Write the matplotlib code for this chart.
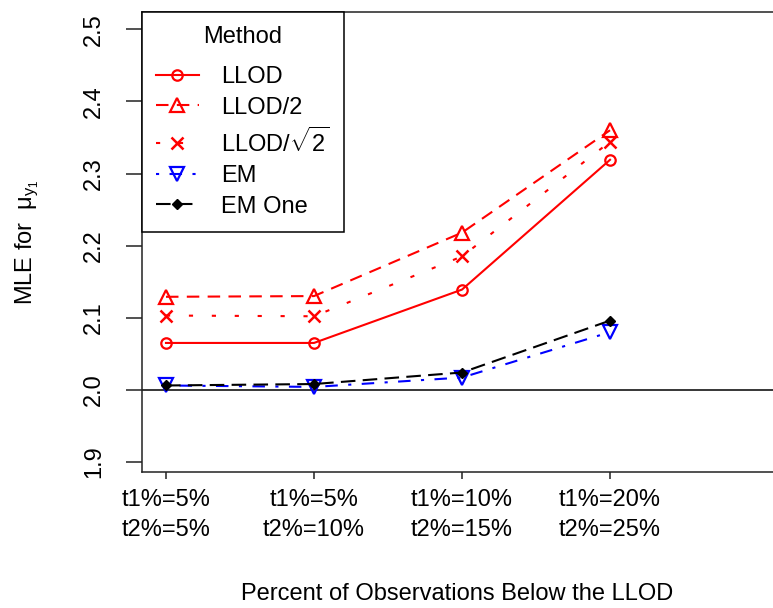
import matplotlib
matplotlib.use('Agg')
import matplotlib.pyplot as plt

plt.rcParams['font.family'] = ['Liberation Sans', 'DejaVu Sans']
plt.rcParams['mathtext.fontset'] = 'custom'
plt.rcParams['mathtext.rm'] = 'Liberation Sans'
plt.rcParams['mathtext.it'] = 'Liberation Sans'
plt.rcParams['mathtext.bf'] = 'Liberation Sans:bold'

# scenario index (1..4) and the MLE of mu_y1 for each method
x = [1, 2, 3, 4]
xlabels = ['t1%=5%\nt2%=5%', 't1%=5%\nt2%=10%', 't1%=10%\nt2%=15%', 't1%=20%\nt2%=25%']
llod = [2.065, 2.065, 2.139, 2.319]
llod_half = [2.129, 2.130, 2.218, 2.360]
llod_sqrt2 = [2.103, 2.102, 2.185, 2.344]
em = [2.006, 2.004, 2.017, 2.080]
em_one = [2.006, 2.008, 2.024, 2.096]

FS = 17

fig = plt.figure(figsize=(7.73, 6.08), dpi=100)
ax = fig.add_axes([142/773, 136/608, 640/773, 460/608])

ax.axhline(2.0, color='black', lw=1.1, zorder=1)

ax.plot(x, llod, color='red', lw=1.5, ls='-', marker='o', ms=7.5,
        mfc='none', mew=1.6, label='LLOD')
ax.plot(x, llod_half, color='red', lw=1.5, ls=(0, (6, 4)), marker='^', ms=10,
        mfc='none', mew=1.6, label='LLOD/2')
ax.plot(x, llod_sqrt2, color='red', lw=1.5, ls=(0, (2, 9)), marker='x', ms=9,
        mew=1.8, label=r'LLOD/$\sqrt{2}$')
ax.plot(x, em, color='blue', lw=1.5, ls=(0, (1.5, 5, 6, 5)), marker='v', ms=10.5,
        mfc='none', mew=1.6, label='EM')
ax.plot(x, em_one, color='black', lw=1.5, ls=(0, (7, 3.5)), marker='D', ms=5.5,
        mfc='black', mew=1, label='EM One')

ax.set_xlim(0.838, 5.162)
ax.set_ylim(1.886, 2.524)

ax.set_xticks(x)
ax.set_xticklabels(xlabels, fontsize=FS, linespacing=1.5)
ax.set_yticks([1.9, 2.0, 2.1, 2.2, 2.3, 2.4, 2.5])
ax.set_yticklabels(['1.9', '2.0', '2.1', '2.2', '2.3', '2.4', '2.5'],
                   fontsize=FS, rotation=90, va='center')
ax.tick_params(axis='y', length=11.5, width=1.1, pad=15, colors='#222222')
ax.tick_params(axis='x', length=5, width=1.1, pad=7, colors='#222222')
for lab in ax.get_xticklabels() + ax.get_yticklabels():
    lab.set_color('black')

for side in ['left', 'bottom', 'top', 'right']:
    ax.spines[side].set_linewidth(1.1)
    ax.spines[side].set_color('#222222')

ax.set_xlabel('Percent of Observations Below the LLOD', fontsize=FS)
ax.xaxis.set_label_coords(0.492, -0.241)
ax.set_ylabel(r'MLE for  $\mu_{y_1}$', fontsize=FS)
ax.yaxis.set_label_coords(-0.158, 0.5)

leg = ax.legend(loc='upper left', bbox_to_anchor=(0, 1), borderaxespad=0,
                title='Method', fontsize=FS, title_fontsize=FS,
                frameon=True, fancybox=False, framealpha=1, edgecolor='black',
                handlelength=1.8, handletextpad=0.95, labelspacing=0.36,
                borderpad=0.6)
leg.get_frame().set_linewidth(1.1)
# a bit more room between the title and the first entry
leg._legend_box.sep = 13

fig.savefig('out.png', dpi=100)
